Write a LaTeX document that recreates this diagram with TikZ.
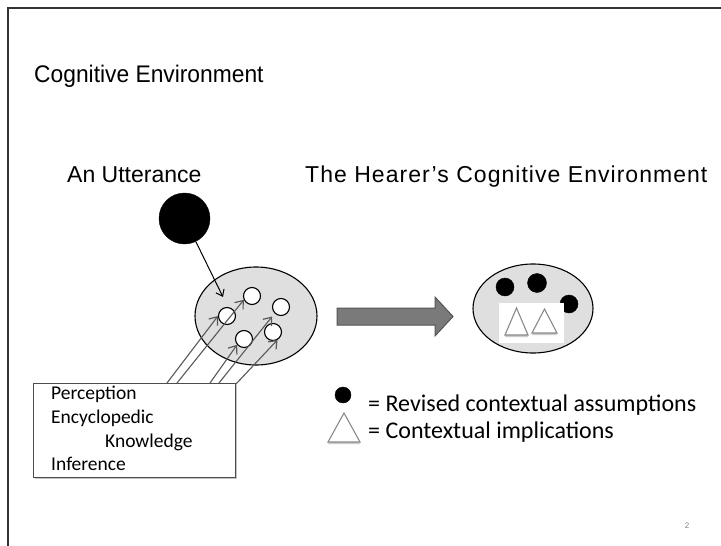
\documentclass[tikz,border=0pt]{standalone}
\usepackage{fontspec}
\setmainfont{Carlito}
\newfontfamily\headfont{Liberation Sans}
\usetikzlibrary{shapes.geometric,arrows.meta,shadows}
\definecolor{ellfill}{HTML}{DFDFDF}
\definecolor{raygray}{HTML}{585858}
\definecolor{arrfill}{HTML}{7A7A7A}
\definecolor{arrdraw}{HTML}{555555}
\definecolor{trigray}{HTML}{8A8A8A}
\begin{document}
\begin{tikzpicture}[x=1pt,y=-1pt,
  dotb/.style={circle,fill=black,draw=black,inner sep=0pt,minimum size=#1},
  smallc/.style={circle,fill=white,draw=black,line width=1.1pt,inner sep=0pt,minimum size=17pt},
  ellb/.style={ellipse,draw=black,line width=1.1pt,fill=ellfill,inner sep=0pt},
  ray/.style={draw=raygray,line width=1.1pt,-{Straight Barb[length=7pt,width=11pt,line width=1.2pt]}},
  bodytxt/.style={font=\fontsize{19.5}{22}\selectfont,anchor=base west,inner sep=0pt},
  legtxt/.style={font=\fontsize{24}{28}\selectfont,anchor=base west,inner sep=0pt},
  headtxt/.style={anchor=base west,inner sep=0pt},
  tri/.style={draw=trigray,line width=1.1pt,fill=white,drop shadow={shadow xshift=0pt,shadow yshift=-2pt,fill=black!40}}
]
\useasboundingbox (0,0) rectangle (721,546);
\fill[white] (0,0) rectangle (721,546);
% frame
\draw[line width=1.8pt,black!80] (8,546) -- (8,8) -- (721,8);

% title and headings
\node[headtxt,font=\headfont\fontsize{24}{28}\selectfont\addfontfeature{FakeStretch=0.95}] (title) at (34,82) {Cognitive Environment};
\node[headtxt,font=\headfont\fontsize{23}{27}\selectfont] (hutt) at (67,182.7) {An Utterance};
\node[headtxt,font=\headfont\fontsize{23}{27}\selectfont\addfontfeature{LetterSpace=4.5}] (hhear) at (305,182.7) {The Hearer’s Cognitive Environment};

% utterance
\node[dotb=51pt] (u) at (184.5,218.5) {};
\node[ellb,minimum width=122pt,minimum height=98pt] (le) at (256,316) {};
\coordinate (utip) at (223,297);
\draw[line width=1pt,-{Straight Barb[length=6pt,width=9pt,line width=1pt]}] (u) -- (utip);

% box
\node[draw=black!70,line width=0.8pt,fill=white,minimum width=202pt,minimum height=94pt,anchor=north west,inner sep=0pt,
  drop shadow={shadow xshift=2pt,shadow yshift=-2pt,fill=black!45}] (box) at (33,383) {};
\node[bodytxt] (t1) at (51,399.3) {Perception};
\node[bodytxt] (t2) at (51,423.3) {Encyclopedic};
\node[bodytxt] (t3) at (105,447.3) {Knowledge};
\node[bodytxt] (t4) at (51,470.7) {Inference};

% small circles
\node[smallc] (c1) at (227,316) {};
\node[smallc] (c2) at (252,296) {};
\node[smallc] (c3) at (281,307) {};
\node[smallc] (c4) at (244,339) {};
\node[smallc] (c5) at (273,332) {};

% rays
\coordinate (s1) at (167,383);
\coordinate (s2) at (177,383);
\coordinate (s3) at (210,383);
\coordinate (s4) at (219,383);
\coordinate (s5) at (236,384);
\draw[ray] (s1) -- (c1.180);
\draw[ray] (s2) -- (c2.205);
\draw[ray] (s3) -- (c4.220);
\draw[ray,shorten >=4pt] (s4) -- (c3.225);
\draw[ray] (s5) -- (c5.-60);

% big arrow
\draw[fill=arrfill,draw=arrdraw,line width=1pt]
  (337,308) -- (435,308) -- (435,297) -- (453,316.5) -- (435,336) -- (435,325) -- (337,325) -- cycle;

% right ellipse
\node[ellb,minimum width=120pt,minimum height=89pt] (re) at (533,308.5) {};
\node[dotb=18pt] (d1) at (505,287) {};
\node[dotb=19pt] (d2) at (537,283) {};
\node[dotb=18pt] (d3) at (569,304) {};
\fill[white] (499,303) rectangle (564,343);
\draw[tri] (505,335) -- (516.5,308) -- (528,335) -- cycle;
\draw[tri] (532,333) -- (544.5,309) -- (557,333) -- cycle;

% legend
\node[dotb=16pt] (ld) at (343,395) {};
\draw[tri] (328,442) -- (344,413) -- (360,442) -- cycle;
\node[legtxt] (l1) at (368,411.7) {= Revised contextual assumptions};
\node[legtxt] (l2) at (368,438.3) {= Contextual implications};

% page number
\node[font=\headfont\fontsize{8}{9}\selectfont,text=black!50,inner sep=0pt] (pg) at (687,526) {2};
\end{tikzpicture}
\end{document}
